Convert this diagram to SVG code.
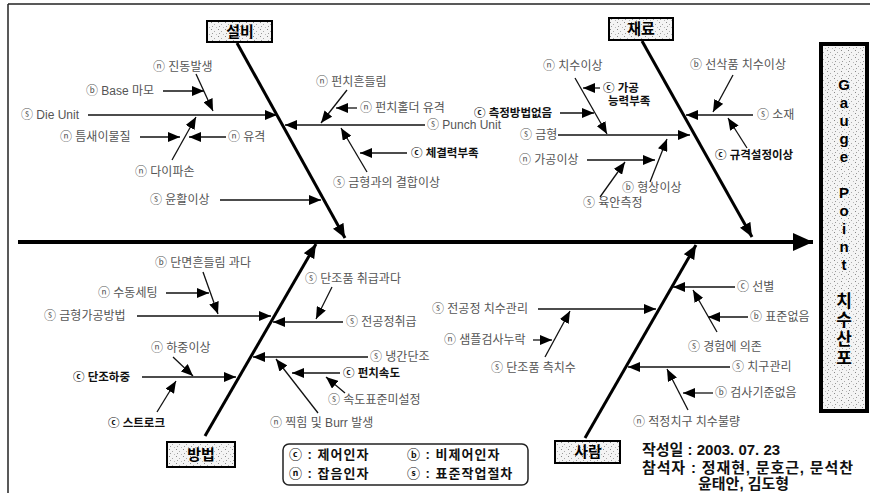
<svg xmlns="http://www.w3.org/2000/svg" width="870" height="493" viewBox="0 0 870 493">
<style>
text { font-family: "Liberation Sans", "Noto Sans CJK KR", sans-serif; }
.l { font-size: 12px; fill: #555; }
.c { font-size: 11.5px; fill: #111; font-weight: bold; }
.cat { font-size: 15px; font-weight: bold; fill: #000; text-anchor: middle; }
.box { fill: url(#dots); stroke: #000; stroke-width: 2; }
.ln { stroke: #111; stroke-width: 1.3; fill: none; marker-end: url(#a); }
.bone { stroke: #000; stroke-width: 3; fill: none; marker-end: url(#b); }
.g { font-size: 15px; font-weight: bold; fill: #000; text-anchor: middle; }
.gk { font-size: 17px; font-weight: bold; fill: #000; text-anchor: middle; }
.lg { font-size: 13px; font-weight: bold; fill: #111; letter-spacing: 1px; }
.info { font-size: 15px; font-weight: bold; fill: #111; }
</style>
<defs>
<pattern id="dots" width="7" height="7" patternUnits="userSpaceOnUse">
<rect width="7" height="7" fill="#f4f4f4"/>
<rect x="1" y="1" width="1" height="1" fill="#888"/>
<rect x="4" y="3" width="1" height="1" fill="#aaa"/>
<rect x="2" y="5" width="1" height="1" fill="#999"/>
<rect x="6" y="6" width="1" height="1" fill="#bbb"/>
</pattern>
<marker id="a" markerUnits="userSpaceOnUse" markerWidth="12" markerHeight="10" refX="12" refY="5" orient="auto">
<path d="M0,0 L12,5 L0,10 z" fill="#000"/>
</marker>
<marker id="b" markerUnits="userSpaceOnUse" markerWidth="14" markerHeight="12" refX="14" refY="6" orient="auto">
<path d="M0,0 L14,6 L0,12 z" fill="#000"/>
</marker>
<marker id="s" markerUnits="userSpaceOnUse" markerWidth="20" markerHeight="18" refX="20" refY="9" orient="auto">
<path d="M0,0 L20,9 L0,18 z" fill="#000"/>
</marker>
</defs>
<rect width="870" height="493" fill="#fff"/>
<g id="frame" stroke="#222" stroke-width="1.5">
<line x1="8" y1="4" x2="870" y2="4"/>
<line x1="8" y1="4" x2="8" y2="493"/>
</g>
<g id="connectors">
<line x1="18" y1="242" x2="813" y2="242" stroke="#000" stroke-width="4" marker-end="url(#s)"/>
<line class="bone" x1="237" y1="43" x2="345" y2="238"/>
<line class="bone" x1="642" y1="41" x2="752" y2="237"/>
<line class="bone" x1="205" y1="436" x2="316" y2="244"/>
<line class="bone" x1="585" y1="438" x2="696" y2="245"/>
<line class="ln" x1="196" y1="74" x2="213" y2="111"/>
<line class="ln" x1="163" y1="91" x2="204" y2="91"/>
<line class="ln" x1="88" y1="115" x2="277" y2="115"/>
<line class="ln" x1="140" y1="137" x2="180" y2="137"/>
<line class="ln" x1="226" y1="137" x2="189" y2="137"/>
<line class="ln" x1="172" y1="160" x2="196" y2="117"/>
<line class="ln" x1="220" y1="200" x2="321" y2="200"/>
<line class="ln" x1="347" y1="90" x2="321" y2="123"/>
<line class="ln" x1="357" y1="108" x2="336" y2="108"/>
<line class="ln" x1="425" y1="125" x2="285" y2="125"/>
<line class="ln" x1="407" y1="153" x2="360" y2="153"/>
<line class="ln" x1="367" y1="172" x2="341" y2="128"/>
<line class="ln" x1="575" y1="78" x2="607" y2="134"/>
<line class="ln" x1="600" y1="88" x2="583" y2="88"/>
<line class="ln" x1="560" y1="113" x2="594" y2="113"/>
<line class="ln" x1="558" y1="135" x2="690" y2="135"/>
<line class="ln" x1="587" y1="160" x2="655" y2="160"/>
<line class="ln" x1="650" y1="182" x2="667" y2="139"/>
<line class="ln" x1="600" y1="197" x2="625" y2="162"/>
<line class="ln" x1="733" y1="75" x2="713" y2="112"/>
<line class="ln" x1="753" y1="115" x2="686" y2="115"/>
<line class="ln" x1="747" y1="148" x2="728" y2="118"/>
<line class="ln" x1="203" y1="272" x2="218" y2="314"/>
<line class="ln" x1="166" y1="293" x2="209" y2="293"/>
<line class="ln" x1="137" y1="316" x2="271" y2="316"/>
<line class="ln" x1="173" y1="357" x2="193" y2="376"/>
<line class="ln" x1="142" y1="377" x2="236" y2="377"/>
<line class="ln" x1="157" y1="412" x2="176" y2="381"/>
<line class="ln" x1="332" y1="287" x2="316" y2="319"/>
<line class="ln" x1="343" y1="322" x2="273" y2="322"/>
<line class="ln" x1="368" y1="357" x2="253" y2="357"/>
<line class="ln" x1="340" y1="373" x2="292" y2="373"/>
<line class="ln" x1="345" y1="393" x2="326" y2="377"/>
<line class="ln" x1="318" y1="413" x2="276" y2="359"/>
<line class="ln" x1="538" y1="309" x2="656" y2="309"/>
<line class="ln" x1="533" y1="340" x2="552" y2="340"/>
<line class="ln" x1="545" y1="357" x2="570" y2="311"/>
<line class="ln" x1="735" y1="287" x2="673" y2="287"/>
<line class="ln" x1="748" y1="317" x2="708" y2="317"/>
<line class="ln" x1="717" y1="332" x2="693" y2="290"/>
<line class="ln" x1="730" y1="367" x2="628" y2="367"/>
<line class="ln" x1="713" y1="393" x2="683" y2="393"/>
<line class="ln" x1="688" y1="410" x2="667" y2="369"/>
</g>
<g id="cat-seolbi"><rect class="box" x="207" y="21" width="65" height="21"/><text class="cat" x="240" y="37">설비</text></g>
<g id="cat-jaeryo"><rect class="box" x="609" y="18" width="64" height="22"/><text class="cat" x="641" y="34">재료</text></g>
<g id="cat-bangbeop"><rect class="box" x="167" y="442" width="68" height="25"/><text class="cat" x="201" y="460">방법</text></g>
<g id="cat-saram"><rect class="box" x="555" y="441" width="65" height="22"/><text class="cat" x="588" y="457">사람</text></g>
<g id="effect"><rect x="821" y="44" width="46" height="367" fill="url(#dots)" stroke="#000" stroke-width="4"/>
<text class="g" x="844" y="90">G</text><text class="g" x="844" y="108">a</text><text class="g" x="844" y="126">u</text><text class="g" x="844" y="144">g</text><text class="g" x="844" y="162">e</text>
<text class="g" x="844" y="198">P</text><text class="g" x="844" y="216">o</text><text class="g" x="844" y="234">i</text><text class="g" x="844" y="252">n</text><text class="g" x="844" y="270">t</text>
<text class="gk" x="844" y="307">치</text><text class="gk" x="844" y="326">수</text><text class="gk" x="844" y="345">산</text><text class="gk" x="844" y="364">포</text></g>
<g id="n1"><text class="l" x="153" y="71">ⓝ 진동발생</text></g>
<g id="n2"><text class="l" x="86" y="95">ⓑ Base 마모</text></g>
<g id="n3"><text class="l" x="21" y="119">ⓢ Die Unit</text></g>
<g id="n4"><text class="l" x="60" y="141">ⓝ 틈새이물질</text></g>
<g id="n5"><text class="l" x="228" y="141">ⓝ 유격</text></g>
<g id="n6"><text class="l" x="135" y="176">ⓝ 다이파손</text></g>
<g id="n7"><text class="l" x="150" y="204">ⓢ 윤활이상</text></g>
<g id="n8"><text class="l" x="316" y="86">ⓝ 펀치흔들림</text></g>
<g id="n9"><text class="l" x="360" y="112">ⓝ 펀치홀더 유격</text></g>
<g id="n10"><text class="l" x="427" y="129">ⓢ Punch Unit</text></g>
<g id="n11"><text class="c" x="411" y="157">ⓒ 체결력부족</text></g>
<g id="n12"><text class="l" x="333" y="187">ⓢ 금형과의 결합이상</text></g>
<g id="n13"><text class="l" x="543" y="70">ⓝ 치수이상</text></g>
<g id="n14"><text class="c" x="603" y="92">ⓒ 가공</text><text class="c" x="608" y="105">능력부족</text></g>
<g id="n15"><text class="c" x="474" y="117">ⓒ 측정방법없음</text></g>
<g id="n16"><text class="l" x="520" y="139">ⓢ 금형</text></g>
<g id="n17"><text class="l" x="519" y="164">ⓝ 가공이상</text></g>
<g id="n18"><text class="l" x="622" y="192">ⓑ 형상이상</text></g>
<g id="n19"><text class="l" x="583" y="207">ⓢ 육안측정</text></g>
<g id="n20"><text class="l" x="690" y="69">ⓑ 선삭품 치수이상</text></g>
<g id="n21"><text class="l" x="757" y="119">ⓢ 소재</text></g>
<g id="n22"><text class="c" x="715" y="159">ⓒ 규격설정이상</text></g>
<g id="n23"><text class="l" x="155" y="267">ⓑ 단면흔들림 과다</text></g>
<g id="n24"><text class="l" x="98" y="297">ⓝ 수동세팅</text></g>
<g id="n25"><text class="l" x="44" y="320">ⓢ 금형가공방법</text></g>
<g id="n26"><text class="l" x="151" y="352">ⓝ 하중이상</text></g>
<g id="n27"><text class="c" x="73" y="381">ⓒ 단조하중</text></g>
<g id="n28"><text class="c" x="108" y="427">ⓒ 스트로크</text></g>
<g id="n29"><text class="l" x="305" y="283">ⓢ 단조품 취급과다</text></g>
<g id="n30"><text class="l" x="346" y="326">ⓢ 전공정취급</text></g>
<g id="n31"><text class="l" x="370" y="361">ⓢ 냉간단조</text></g>
<g id="n32"><text class="c" x="343" y="377">ⓒ 펀치속도</text></g>
<g id="n33"><text class="l" x="328" y="404">ⓢ 속도표준미설정</text></g>
<g id="n34"><text class="l" x="270" y="427">ⓝ 찍힘 및 Burr 발생</text></g>
<g id="n35"><text class="l" x="432" y="313">ⓢ 전공정 치수관리</text></g>
<g id="n36"><text class="l" x="444" y="344">ⓝ 샘플검사누락</text></g>
<g id="n37"><text class="l" x="491" y="372">ⓢ 단조품 측치수</text></g>
<g id="n38"><text class="l" x="737" y="291">ⓒ 선별</text></g>
<g id="n39"><text class="l" x="750" y="321">ⓑ 표준없음</text></g>
<g id="n40"><text class="l" x="688" y="351">ⓢ 경험에 의존</text></g>
<g id="n41"><text class="l" x="732" y="371">ⓢ 치구관리</text></g>
<g id="n42"><text class="l" x="715" y="397">ⓑ 검사기준없음</text></g>
<g id="n43"><text class="l" x="633" y="426">ⓝ 적정치구 치수불량</text></g>
<g id="legend"><rect x="283" y="444" width="245" height="41" rx="6" fill="#fff" stroke="#222" stroke-width="1.5"/>
<text class="lg" x="289" y="459">ⓒ : 제어인자</text><text class="lg" x="407" y="459">ⓑ : 비제어인자</text>
<text class="lg" x="289" y="478">ⓝ : 잡음인자</text><text class="lg" x="407" y="478">ⓢ : 표준작업절차</text></g>
<g id="info">
<text class="info" x="642" y="455">작성일 : 2003. 07. 23</text>
<text class="info" x="642" y="473" textLength="211">참석자 : 정재현, 문호근, 문석찬</text>
<text class="info" x="698" y="489">윤태안, 김도형</text>
</g>
</svg>
